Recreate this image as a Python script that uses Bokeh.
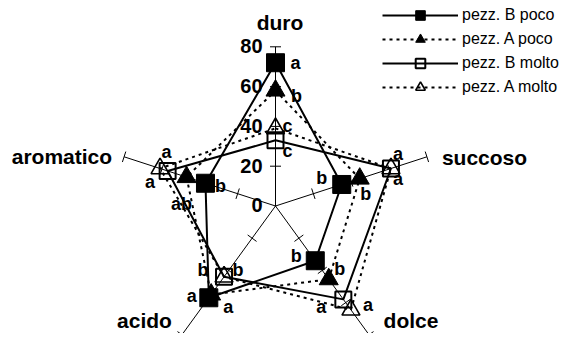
import numpy as np
from bokeh.plotting import figure
from bokeh.models import Range1d, Legend, LegendItem, ColumnDataSource
from bokeh.core.properties import value
from bokeh.embed import file_html
from bokeh.resources import INLINE

# ---------------- data ----------------
categories = ["duro", "succoso", "dolce", "acido", "aromatico"]
series_names = ["pezz. B poco", "pezz. A poco", "pezz. B molto", "pezz. A molto"]
b_poco = [72, 35, 34, 57, 37]
a_poco = [58, 44.5, 45.5, 55, 47]
b_molto = [33, 61, 58, 44, 57]
a_molto = [39, 61, 64.5, 44, 61]
letters_b_poco = ["a", "b", "b", "a", "b"]
letters_a_poco = ["b", "b", "b", "a", "ab"]
letters_b_molto = ["c", "a", "a", "b", "a"]
letters_a_molto = ["c", "a", "a", "b", "a"]
tick_values = [0, 20, 40, 60, 80]
r_max = 80

# ---------------- layout ----------------
W, H = 560, 333
K = 1.99                 # pixels per unit
CX, CY = 275.0, 205.5    # centre of the radar, px from top-left of frame
FONT = "Liberation Sans"
BASE_CORR = 0.38         # baseline correction (fraction of font size)

p = figure(width=W, height=H, output_backend="svg", toolbar_location=None,
           x_range=Range1d(-CX / K, (W - CX) / K),
           y_range=Range1d(-(H - CY) / K, CY / K),
           min_border=0, title=None)
p.axis.visible = False
p.grid.visible = False
p.outline_line_color = None
p.background_fill_color = "white"
p.border_fill_color = "white"

n = len(categories)
ang = np.deg2rad(90 - 72 * np.arange(n))
cosA, sinA = np.cos(ang), np.sin(ang)

# spokes
p.segment(x0=[0] * n, y0=[0] * n, x1=list(r_max * cosA), y1=list(r_max * sinA),
          line_color="black", line_width=1)
# tick marks on every spoke
half = 5.5 / K
tx0, ty0, tx1, ty1 = [], [], [], []
for i in range(n):
    for t in tick_values[1:]:
        bx, by = t * cosA[i], t * sinA[i]
        px, py = -sinA[i], cosA[i]
        tx0.append(bx - half * px); ty0.append(by - half * py)
        tx1.append(bx + half * px); ty1.append(by + half * py)
p.segment(x0=tx0, y0=ty0, x1=tx1, y1=ty1, line_color="black", line_width=1)

# tick labels on the "duro" spoke
p.text(x=[0] * len(tick_values), y=[t * sinA[0] for t in tick_values],
       text=[str(t) for t in tick_values], x_offset=-13, y_offset=7 - BASE_CORR * 20,
       text_align="right", text_baseline="alphabetic",
       text_font=value(FONT), text_font_style="bold", text_font_size=value("20px"),
       text_color="black")

# category labels
cat_layout = {  # (x_offset, y_offset, align)
    "duro": (4.5, -16.5, "center"),
    "succoso": (15, 9, "left"),
    "dolce": (14.5, -6, "left"),
    "acido": (-10, -6, "right"),
    "aromatico": (-12, 8, "right"),
}
cat_src = ColumnDataSource(dict(
    x=list(r_max * cosA), y=list(r_max * sinA), text=categories,
    xo=[cat_layout[c][0] for c in categories],
    yo=[cat_layout[c][1] - BASE_CORR * 21 for c in categories],
    al=[cat_layout[c][2] for c in categories]))
p.text(x="x", y="y", text="text", x_offset="xo", y_offset="yo", text_align="al",
       text_baseline="alphabetic", source=cat_src,
       text_font=value(FONT), text_font_style="bold", text_font_size=value("21px"),
       text_color="black")

series = [b_poco, a_poco, b_molto, a_molto]
letters = [letters_b_poco, letters_a_poco, letters_b_molto, letters_a_molto]
styles = [
    dict(dash="solid", marker="square", size=18, fill="black", lw_m=1),
    dict(dash="3 4", marker="triangle", size=19, fill="black", lw_m=1),
    dict(dash="solid", marker="square", size=16, fill=None, lw_m=2),
    dict(dash="3 4", marker="triangle", size=18, fill=None, lw_m=1.6),
]
# letter offsets in px (dx right, dy = baseline below marker centre)
letter_offsets = [
    [(20, 7), (-20, 0), (-19, 2), (-17, 5), (15, 10)],
    [(21, 12), (6, 22), (11, -3), (17, 19), (-5, 34)],
    [(12, 18), (7, -8), (-22, 14), (-21, 0), (-1, -12)],
    [(12, 4), (7, 17), (17, 2), (14, 0), (-10, 20)],
]

items = []
line_rs = []
for s, vals in enumerate(series):
    v = np.array(vals, dtype=float)
    xs = list(v * cosA) + [v[0] * cosA[0]]
    ys = list(v * sinA) + [v[0] * sinA[0]]
    st = styles[s]
    lr = p.line(xs, ys, line_color="black", line_width=2, line_dash=st["dash"])
    line_rs.append((lr, xs[:-1], ys[:-1], st))

for s, (lr, xs, ys, st) in enumerate(line_rs):
    mr = p.scatter(xs, ys, marker=st["marker"], size=st["size"],
                   fill_color=st["fill"], line_color="black", line_width=st["lw_m"])
    offs = letter_offsets[s]
    p.text(x=xs, y=ys, text=letters[s],
           x_offset=[o[0] for o in offs], y_offset=[o[1] - BASE_CORR * 18 for o in offs],
           text_align="center", text_baseline="alphabetic",
           text_font=value(FONT), text_font_style="bold", text_font_size=value("18px"),
           text_color="black")
    items.append(LegendItem(label=series_names[s], renderers=[lr, mr]))

legend = Legend(items=items, location=(382, 234), orientation="vertical",
                glyph_width=76, glyph_height=24, label_height=24, spacing=0,
                label_standoff=4, padding=0, margin=0,
                border_line_color=None, background_fill_alpha=0,
                label_text_font=FONT, label_text_font_size="16px",
                label_text_color="black")
p.add_layout(legend, "center")

open("out.html", "w").write(file_html(p, INLINE))
